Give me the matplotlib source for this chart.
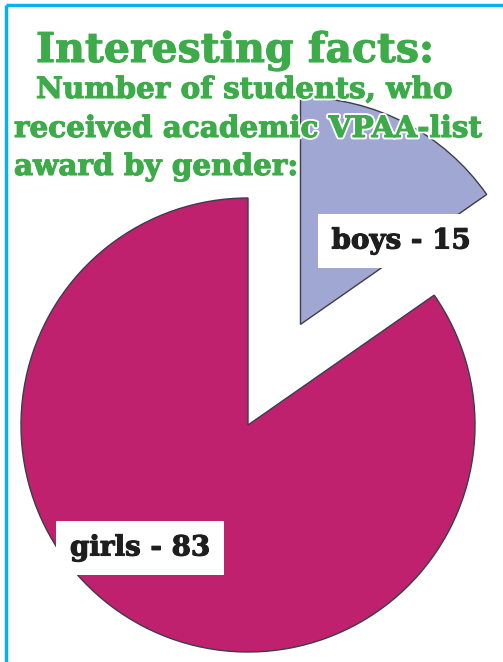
import matplotlib.pyplot as plt
import matplotlib.patheffects as pe

# data
genders = ["girls", "boys"]
counts = [83, 15]
colors = ["#C0216F", "#A1A7D3"]
explode_frac = [0.0, 0.5]

title = "Interesting facts:"
subtitle_lines = ["Number of students, who",
                  "received academic VPAA-list",
                  "award by gender:"]

W, H = 503, 662
fig = plt.figure(figsize=(W / 100, H / 100), dpi=100)
fig.patch.set_facecolor("white")
ax = fig.add_axes([0, 0, 1, 1])

# pie in pixel units (y axis flipped -> draw clockwise in data space)
radius = 227
cx, cy = 248, 425
wedges, _ = ax.pie(counts, colors=colors, startangle=-90, counterclock=False,
                   radius=radius, center=(cx, cy),
                   explode=[e * radius for e in explode_frac],
                   wedgeprops=dict(edgecolor="#3b3d4a", linewidth=1.0),
                   frame=True)
ax.set_xlim(0, W)
ax.set_ylim(H, 0)
ax.axis("off")

# value labels in white boxes
label_pos = {"boys": (401, 241), "girls": (140, 548)}
for g, c in zip(genders, counts):
    x, y = label_pos[g]
    t = ax.text(x, y, f"{g} - {c}", ha="center", va="center", fontsize=20,
                family="DejaVu Serif", fontweight="bold", color="#1e1e1e",
                bbox=dict(facecolor="white", edgecolor="none",
                          boxstyle="square,pad=0.5"))
    t.set_path_effects([pe.withStroke(linewidth=0.8, foreground="#1e1e1e")])

# headings
green = "#3DAB4A"
stroke = [pe.Stroke(linewidth=3.5, foreground="white"),
          pe.Stroke(linewidth=0.8, foreground=green), pe.Normal()]
ax.text(36, 62, title, fontsize=29.5, family="DejaVu Serif", fontweight="bold",
        color=green, va="baseline", path_effects=stroke)
for (x, y), line in zip([(36, 98), (14, 137), (14, 175)], subtitle_lines):
    ax.text(x, y, line, fontsize=21.2, family="DejaVu Serif", fontweight="bold",
            color=green, va="baseline", path_effects=stroke)

# blue frame on top and left
ax.plot([6, W], [5, 5], color="#0AAFEC", linewidth=2.5, solid_capstyle="butt")
ax.plot([6, 6], [5, H], color="#0AAFEC", linewidth=2.5, solid_capstyle="butt")

fig.savefig("out.png", dpi=100)
